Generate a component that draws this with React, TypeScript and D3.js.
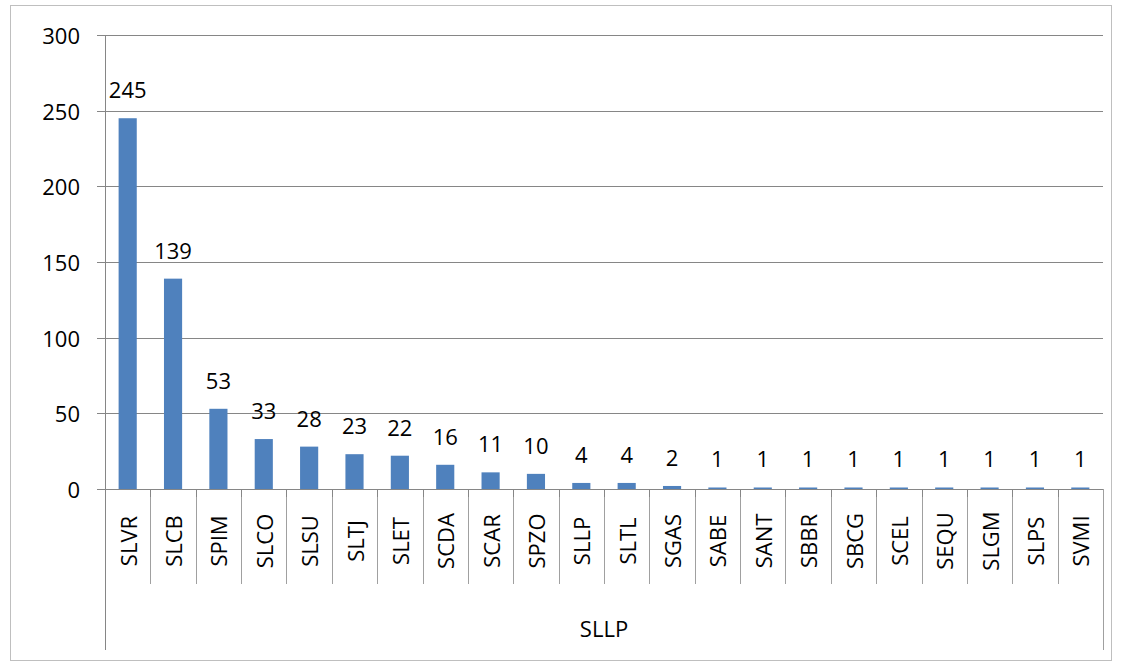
import React from "react";
import * as d3 from "d3";

const categories = ["SLVR","SLCB","SPIM","SLCO","SLSU","SLTJ","SLET","SCDA","SCAR","SPZO","SLLP","SLTL","SGAS","SABE","SANT","SBBR","SBCG","SCEL","SEQU","SLGM","SLPS","SVMI"];
const values = [245,139,53,33,28,23,22,16,11,10,4,4,2,1,1,1,1,1,1,1,1,1];
const yTicks = [0,50,100,150,200,250,300];
const axisTitle = "SLLP";

const W = 1121, H = 663;
const left = 105, right = 1103, top = 35, bottom = 489;
const catBottom = 584, axisEnd = 650;
const font = "'Open Sans', 'Liberation Sans', sans-serif";
const fs = 22;

export default function App() {
  const x = d3.scaleBand<string>().domain(categories).range([left, right]).paddingInner(0.6).paddingOuter(0.3);
  const step = (right - left) / categories.length;
  const y = d3.scaleLinear().domain([0, 300]).range([bottom, top]);
  const grid = "#868686";
  return (
    <svg width={W} height={H} style={{ position: "absolute", left: 0, top: 0, background: "#fff" }}>
      <rect x={10.5} y={5.5} width={1101} height={655} fill="#fff" stroke="#BFBFBF" strokeWidth={1} />
      {yTicks.map((t) => (
        <g key={t}>
          <line x1={97} x2={right} y1={Math.round(y(t)) + 0.5} y2={Math.round(y(t)) + 0.5} stroke={grid} strokeWidth={1} />
          <text x={80} y={y(t)} textAnchor="end" dominantBaseline="central" fontFamily={font} fontSize={fs} fill="#000">{t}</text>
        </g>
      ))}
      {categories.map((c, i) => i > 0 ? (
        <g key={"s" + c}>
          <line x1={Math.round(left + i * step) + 0.5} x2={Math.round(left + i * step) + 0.5} y1={bottom} y2={catBottom} stroke="#A0A0A0" />
          <line x1={Math.round(left + i * step) + 0.5} x2={Math.round(left + i * step) + 0.5} y1={bottom} y2={bottom + 8} stroke={grid} />
        </g>
      ) : null)}
      <line x1={left + 0.5} x2={left + 0.5} y1={top} y2={axisEnd} stroke={grid} />
      <line x1={right + 0.5} x2={right + 0.5} y1={bottom} y2={axisEnd} stroke="#A0A0A0" />
      {categories.map((c, i) => (
        <g key={c}>
          <rect x={x(c)} y={y(values[i])} width={x.bandwidth()} height={bottom - y(values[i])} fill="#4F81BD" />
          <text x={x(c)! + x.bandwidth() / 2} y={y(values[i]) - 20} textAnchor="middle" fontFamily={font} fontSize={fs} fill="#000">{values[i]}</text>
          <text transform={`translate(${x(c)! + x.bandwidth() / 2},541) rotate(-90)`} textAnchor="middle" dominantBaseline="central" fontFamily={font} fontSize={fs} fill="#000">{c}</text>
        </g>
      ))}
      <text x={(left + right) / 2} y={628} textAnchor="middle" dominantBaseline="central" fontFamily={font} fontSize={fs} fill="#000">{axisTitle}</text>
    </svg>
  );
}
